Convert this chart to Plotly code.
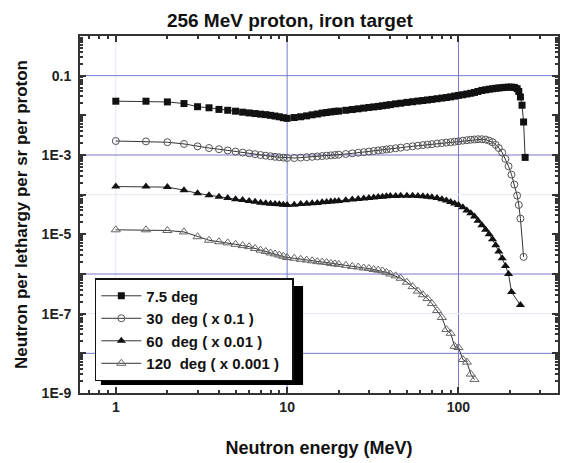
import plotly.graph_objects as go

# ---------------- data ----------------
energy = [1, 1.5, 2, 2.5, 3, 3.5, 4, 4.5, 5, 5.5, 6, 6.5, 7, 7.5, 8, 8.5, 9, 9.5, 10,
          11, 12, 13, 14, 15, 16, 17, 18, 19, 20, 22, 24, 26, 28, 30, 32, 34, 36, 38, 40,
          43, 46, 50, 54, 58, 62, 66, 70, 75, 80, 85, 90, 95, 100, 106, 112, 118, 124,
          130, 137, 144, 151, 158, 165, 172, 180, 188, 196, 204, 212, 220, 225, 230, 235,
          240, 245]

deg_7_5 = [0.0227, 0.0227, 0.0218, 0.0198, 0.0165, 0.0155, 0.0141, 0.0134, 0.0127, 0.0120,
           0.0115, 0.0111, 0.0107, 0.0104, 0.0100, 0.0096, 0.0092, 0.0087, 0.0084,
           0.0088, 0.0092, 0.0097, 0.0103, 0.0108, 0.0114, 0.0118, 0.0122, 0.0126, 0.0128,
           0.0134, 0.0140, 0.0146, 0.0152, 0.0158, 0.0163, 0.0168, 0.0174, 0.0180, 0.0186,
           0.0195, 0.0202, 0.0212, 0.0220, 0.0229, 0.0236, 0.0244, 0.0252, 0.0262, 0.0272,
           0.0281, 0.0292, 0.0305, 0.0318, 0.0330, 0.0345, 0.0360, 0.0378,
           0.0400, 0.0425, 0.0440, 0.0455, 0.0468, 0.0480, 0.0490, 0.0500, 0.0508, 0.0513,
           0.0515, 0.0505, 0.0470, 0.0400, 0.0290, 0.0180, 0.0068, 0.00087]

deg_30 = [2.25e-3, 2.2e-3, 2.1e-3, 1.9e-3, 1.65e-3, 1.5e-3, 1.4e-3, 1.3e-3, 1.22e-3, 1.15e-3,
          1.1e-3, 1.05e-3, 1.0e-3, 9.6e-4, 9.3e-4, 9.0e-4, 8.8e-4, 8.6e-4, 8.4e-4,
          8.4e-4, 8.6e-4, 8.8e-4, 9.0e-4, 9.2e-4, 9.4e-4, 9.6e-4, 9.8e-4, 1.0e-3, 1.02e-3,
          1.06e-3, 1.1e-3, 1.14e-3, 1.18e-3, 1.22e-3, 1.26e-3, 1.3e-3, 1.34e-3, 1.38e-3, 1.42e-3,
          1.48e-3, 1.53e-3, 1.6e-3, 1.66e-3, 1.72e-3, 1.78e-3, 1.83e-3, 1.88e-3, 1.94e-3, 2.0e-3,
          2.05e-3, 2.1e-3, 2.16e-3, 2.22e-3, 2.3e-3, 2.36e-3, 2.42e-3, 2.46e-3,
          2.5e-3, 2.5e-3, 2.45e-3, 2.3e-3, 2.1e-3, 1.8e-3, 1.5e-3, 1.15e-3, 8.0e-4, 5.2e-4,
          3.2e-4, 1.8e-4, 9.5e-5, 5.5e-5, 2.5e-5, None, 2.7e-6, None]

deg_60 = [1.6e-4, 1.6e-4, 1.55e-4, 1.3e-4, 1.08e-4, 9.7e-5, 8.8e-5, 8.3e-5, 7.7e-5, 7.3e-5,
          6.9e-5, 6.6e-5, 6.3e-5, 6.1e-5, 5.9e-5, 5.8e-5, 5.7e-5, 5.6e-5, 5.5e-5,
          5.6e-5, 5.8e-5, 5.9e-5, 6.1e-5, 6.2e-5, 6.4e-5, 6.5e-5, 6.7e-5, 6.8e-5, 6.9e-5,
          7.2e-5, 7.5e-5, 7.8e-5, 8.0e-5, 8.3e-5, 8.5e-5, 8.7e-5, 8.9e-5, 9.1e-5, 9.2e-5,
          9.3e-5, 9.4e-5, 9.4e-5, 9.4e-5, 9.3e-5, 9.1e-5, 8.9e-5, 8.6e-5, 8.2e-5, 7.7e-5,
          7.1e-5, 6.5e-5, 6.0e-5, 5.5e-5, 4.8e-5, 4.0e-5, 3.4e-5, 2.8e-5,
          2.2e-5, 1.7e-5, 1.3e-5, 1.0e-5, 7.5e-6, 5.3e-6, 3.7e-6, 2.5e-6, 1.6e-6, 1.0e-6,
          3.5e-7, None, None, None, 1.65e-7, None, None, None]

deg_120 = [1.3e-5, 1.3e-5, 1.25e-5, 1.15e-5, 8.7e-6, 7.1e-6, 6.5e-6, 6.1e-6, 5.6e-6, 5.2e-6,
           4.9e-6, 4.4e-6, 4.0e-6, 3.7e-6, 3.4e-6, 3.2e-6, 3.0e-6, 2.8e-6, 2.6e-6,
           2.5e-6, 2.35e-6, 2.25e-6, 2.15e-6, 2.05e-6, 2.0e-6, 1.95e-6, 1.85e-6, 1.8e-6, 1.75e-6,
           1.65e-6, 1.55e-6, 1.5e-6, 1.42e-6, 1.38e-6, 1.3e-6, 1.25e-6, 1.2e-6, 1.1e-6, 1.0e-6,
           9.0e-7, 7.8e-7, 6.2e-7, 4.8e-7, 3.7e-7, 3.0e-7, 2.4e-7, 1.8e-7, 1.2e-7, 8.0e-8,
           4.0e-8, 3.2e-8, 1.5e-8, 1.4e-8, 7.0e-9, 6.0e-9, 3.0e-9, 2.2e-9,
           None, None, None, None, None, None, None, None, None, None,
           None, None, None, None, None, None, None, None]

series_names = ["7.5 deg", "30\u00a0\u00a0deg ( x 0.1 )",
                "60\u00a0\u00a0deg ( x 0.01 )", "120\u00a0\u00a0deg ( x 0.001 )\u00a0\u00a0"]

x_tick_vals = [1, 10, 100]
x_tick_text = ["1", "10", "100"]
y_tick_text = {1e-1: "0.1", 1e-3: "1E-3", 1e-5: "1E-5", 1e-7: "1E-7", 1e-9: "1E-9"}

# ---------------- figure ----------------
FONT = "Liberation Sans, Arial, sans-serif"
fig = go.Figure()

styles = [
    dict(symbol="square", size=7, color="#111", line=dict(width=0)),
    dict(symbol="circle-open", size=7, color="#555", line=dict(width=1, color="#555")),
    dict(symbol="triangle-up", size=8, color="#111", line=dict(width=0)),
    dict(symbol="triangle-up-open", size=8, color="#666", line=dict(width=1, color="#666")),
]
for name, vals, st in zip(series_names, [deg_7_5, deg_30, deg_60, deg_120], styles):
    fig.add_trace(go.Scatter(
        x=energy, y=vals, name=name, mode="lines+markers", connectgaps=True,
        line=dict(color="#333", width=1), marker=st))

# gridlines (blue, as in the scanned original)
GRID = "#7878cc"
shapes = []
for xv in [10, 100]:
    shapes.append(dict(type="line", xref="x", yref="paper", x0=xv, x1=xv, y0=0, y1=1,
                       line=dict(color=GRID, width=1), layer="below"))
shapes.append(dict(type="line", xref="x", yref="paper", x0=1, x1=1, y0=0, y1=1,
                   line=dict(color="#e4e4f4", width=1), layer="below"))
for yv in [1e-1, 1e-3, 1e-6, 1e-8]:
    shapes.append(dict(type="line", xref="paper", yref="y", x0=0, x1=1, y0=yv, y1=yv,
                       line=dict(color=GRID, width=1), layer="below"))
for yv in [1e-4, 1e-7]:
    shapes.append(dict(type="line", xref="paper", yref="y", x0=0, x1=1, y0=yv, y1=yv,
                       line=dict(color="#e8e8f6", width=1), layer="below"))
# legend shadow (pixel box converted to paper units: plot area x 80..560, y 36..393)
px0, px1, py0, py1 = 101, 304, 286, 385
shapes.append(dict(type="rect", xref="paper", yref="paper",
                   x0=(px0 - 80) / 480, x1=(px1 - 80) / 480,
                   y0=(393 - py1) / 357, y1=(393 - py0) / 357,
                   fillcolor="black", line=dict(width=0), layer="above"))

y_major = [10.0 ** k for k in range(-9, 1)]
y_minor = [m * 10.0 ** k for k in range(-9, 0) for m in range(2, 10)]
x_minor = [m * 10.0 ** k for k in range(-1, 3) for m in range(2, 10)]

axis_common = dict(showline=True, linewidth=2, linecolor="#333", mirror="allticks",
                   ticks="inside", ticklen=6, tickwidth=1.5, tickcolor="#333",
                   showgrid=False, zeroline=False,
                   tickfont=dict(family=FONT, size=14, color="#222", weight="bold"))

fig.update_layout(
    width=564, height=463,
    margin=dict(l=80, r=4, t=36, b=70),
    paper_bgcolor="white", plot_bgcolor="white",
    title=dict(text="256 MeV proton, iron target", x=0.514, xanchor="center",
               y=0.955, yanchor="middle", yref="container",
               font=dict(family=FONT, size=19, color="#111", weight="bold")),
    xaxis=dict(type="log", range=[-0.209, 2.581], tickvals=x_tick_vals, ticktext=x_tick_text,
               minor=dict(tickvals=x_minor, ticks="inside", ticklen=3, tickcolor="#333",
                          showgrid=False),
               title=dict(text="Neutron energy (MeV)", standoff=28,
                          font=dict(family=FONT, size=18, color="#111", weight="bold")),
               **axis_common),
    yaxis=dict(type="log", range=[-9, 0], tickvals=y_major,
               ticktext=[y_tick_text.get(v, "") for v in y_major],
               minor=dict(tickvals=y_minor, ticks="inside", ticklen=3, tickcolor="#333",
                          showgrid=False),
               ticklabelstandoff=4,
               title=dict(text="Neutron per lethargy per sr per proton", standoff=10,
                          font=dict(family=FONT, size=17, color="#111", weight="bold")),
               **axis_common),
    legend=dict(x=0.031, y=0.322, xanchor="left", yanchor="top",
                bgcolor="white", bordercolor="#111", borderwidth=1.5,
                itemwidth=40,
                font=dict(family=FONT, size=15, color="#111", weight="bold"),
                tracegroupgap=0),
    shapes=shapes,
    showlegend=True,
)

fig.write_html("out.html")
